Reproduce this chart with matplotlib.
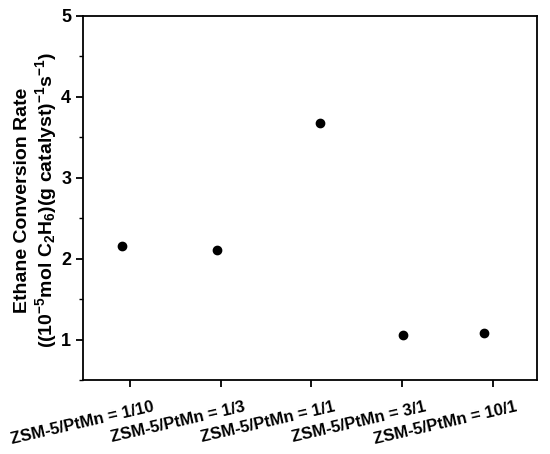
import matplotlib
matplotlib.use("Agg")
import matplotlib.pyplot as plt
import matplotlib.transforms as mtransforms
from matplotlib.ticker import MultipleLocator

plt.rcParams['font.family'] = ['Liberation Sans', 'DejaVu Sans']
plt.rcParams['mathtext.fontset'] = 'custom'
plt.rcParams['mathtext.rm'] = 'Liberation Sans:bold'
plt.rcParams['mathtext.it'] = 'Liberation Sans:bold'
plt.rcParams['mathtext.bf'] = 'Liberation Sans:bold'
plt.rcParams['mathtext.default'] = 'rm'

categories = ["ZSM-5/PtMn = 1/10", "ZSM-5/PtMn = 1/3", "ZSM-5/PtMn = 1/1",
              "ZSM-5/PtMn = 3/1", "ZSM-5/PtMn = 10/1"]
point_x = [-0.09, -0.04, 0.10, 0.01, -0.10]   # offsets of points from category ticks
rates = [2.155, 2.105, 3.675, 1.053, 1.082]
yticks = [1, 2, 3, 4, 5]
ylabel_1 = "Ethane Conversion Rate"
ylabel_2 = "((10$^{-5}$mol C$_2$H$_6$)(g catalyst)$^{-1}$s$^{-1}$)"

W, H = 550, 454
fig = plt.figure(figsize=(W/100, H/100), dpi=100)
ax = fig.add_axes([83/W, 1-380/H, (537-83)/W, (380-16)/H])

xs = [i + o for i, o in enumerate(point_x)]
ax.plot(xs, rates, 'o', color='black', ms=6, ls='none')

ax.set_xlim(-0.52, 4.49)
ax.set_ylim(0.5, 5)
ax.set_yticks(yticks)
ax.yaxis.set_minor_locator(MultipleLocator(0.5))
ax.set_xticks(range(len(categories)))
ax.set_xticklabels([""] * len(categories))
ax.set_yticklabels([str(v) for v in yticks], fontsize=13, fontweight='bold')

offset = mtransforms.ScaledTranslation(22/100, -19/100, fig.dpi_scale_trans)
tr = ax.get_xaxis_transform() + offset
for i, c in enumerate(categories):
    ax.text(i, 0, c, transform=tr, fontsize=12, fontweight='bold',
            rotation=13, ha='right', va='top', rotation_mode='anchor',
            clip_on=False)

for s in ax.spines.values():
    s.set_linewidth(1.3)
ax.tick_params(axis='both', which='major', direction='out', length=5, width=1.3)
ax.tick_params(axis='y', which='minor', direction='out', length=3, width=1.0)

yc = 1 - 200/H
fig.text(23/W, yc, ylabel_1, rotation=90, ha='center', va='center',
         rotation_mode='anchor', fontsize=14, fontweight='bold')
fig.text(46/W, yc, ylabel_2, rotation=90, ha='center', va='center',
         rotation_mode='anchor', fontsize=14, fontweight='bold')

fig.savefig("out.png", dpi=100)
